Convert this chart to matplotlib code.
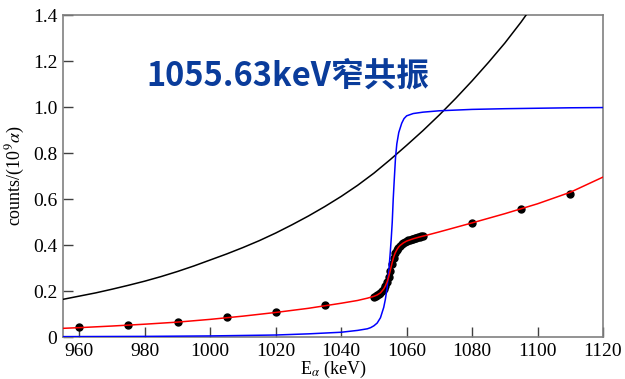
import matplotlib
matplotlib.use('Agg')
import matplotlib.pyplot as plt

# Energy grid (keV) and curves
E_black = [955, 960, 965, 970, 975, 980, 985, 990, 995, 1000, 1005, 1010, 1015, 1020,
           1025, 1030, 1035, 1040, 1045, 1050, 1055, 1060, 1065, 1070, 1075, 1080,
           1085, 1090, 1095, 1100]
V_black = [0.165, 0.179, 0.193, 0.209, 0.226, 0.244, 0.264, 0.286, 0.310, 0.336, 0.362,
           0.390, 0.420, 0.453, 0.489, 0.527, 0.568, 0.612, 0.660, 0.713, 0.772, 0.834,
           0.898, 0.966, 1.038, 1.114, 1.194, 1.278, 1.370, 1.470]

E_blue = [955, 980, 1000, 1020, 1030, 1040, 1045, 1048, 1049, 1050, 1051, 1052, 1053,
          1053.5, 1054, 1054.5, 1055, 1055.3, 1055.6, 1055.9, 1056.2, 1056.6, 1057,
          1057.6, 1058.5, 1059.2, 1060, 1062, 1065, 1070, 1080, 1090, 1100, 1110, 1120]
V_blue = [0.003, 0.004, 0.006, 0.010, 0.015, 0.022, 0.030, 0.037, 0.042, 0.050, 0.062,
          0.085, 0.130, 0.165, 0.210, 0.280, 0.370, 0.430, 0.500, 0.600, 0.680, 0.780,
          0.840, 0.890, 0.930, 0.950, 0.962, 0.972, 0.978, 0.984, 0.990, 0.993, 0.995,
          0.997, 0.998]

E_red = [955, 960, 970, 980, 990, 1000, 1010, 1020, 1030, 1040, 1045, 1048, 1050, 1051,
         1052, 1053, 1053.5, 1054, 1054.5, 1055, 1055.5, 1056, 1056.5, 1057, 1057.5,
         1058, 1059, 1060, 1062, 1064, 1066, 1070, 1080, 1090, 1100, 1110, 1120]
V_red = [0.039, 0.042, 0.049, 0.057, 0.066, 0.078, 0.092, 0.108, 0.126, 0.148, 0.160,
         0.170, 0.178, 0.184, 0.193, 0.210, 0.223, 0.240, 0.262, 0.290, 0.320, 0.347,
         0.366, 0.380, 0.391, 0.399, 0.410, 0.418, 0.428, 0.436, 0.443, 0.458, 0.497,
         0.537, 0.580, 0.630, 0.696]

# measured points
E_data = [960, 975, 990, 1005, 1020, 1035,
          1050.0, 1050.5, 1051.0, 1051.5, 1052.0, 1052.5, 1053.0, 1053.5, 1054.0,
          1054.5, 1055.0, 1055.5, 1056.0, 1056.5, 1057.0, 1057.5, 1058.0, 1058.5,
          1059.0, 1059.5, 1060.0, 1060.5, 1061.0, 1061.5, 1062.0, 1062.5, 1063.0,
          1063.5, 1064.0, 1064.5, 1065.0,
          1080, 1095, 1110]
V_data = [0.043, 0.053, 0.068, 0.088, 0.110, 0.139,
          0.177, 0.180, 0.184, 0.188, 0.194, 0.201, 0.211, 0.224, 0.241,
          0.263, 0.290, 0.318, 0.345, 0.365, 0.379, 0.390, 0.398, 0.404,
          0.409, 0.414, 0.418, 0.421, 0.424, 0.426, 0.428, 0.430, 0.432,
          0.434, 0.436, 0.438, 0.440,
          0.498, 0.558, 0.623]

x_ticks = [960, 980, 1000, 1020, 1040, 1060, 1080, 1100, 1120]
y_ticks = [0, 0.2, 0.4, 0.6, 0.8, 1.0, 1.2, 1.4]
y_labels = ['0', '0.2', '0.4', '0.6', '0.8', '1.0', '1.2', '1.4']
title = '1055.63keV窄共振'

plt.rcParams['font.family'] = ['Liberation Serif', 'DejaVu Serif']
plt.rcParams['mathtext.fontset'] = 'stix'

fig = plt.figure(figsize=(6.25, 3.79), dpi=100)
ax = fig.add_axes([0.1008, 0.110, 0.864, 0.8504])

ax.plot(E_data, V_data, 'o', color='black', markersize=5, zorder=2)
ax.plot(E_black, V_black, color='black', lw=1.1, zorder=3)
ax.plot(E_blue, V_blue, color='#0000ff', lw=1.1, zorder=3)
ax.plot(E_red, V_red, color='#ff0000', lw=1.1, zorder=4)

ax.set_xlim(955, 1120)
ax.set_ylim(0, 1.4)
ax.set_xticks(x_ticks)
ax.set_yticks(y_ticks)
ax.set_yticklabels(y_labels)
ax.tick_params(direction='in', length=7, width=1, color='#404040',
               labelsize=14, top=False, right=False, pad=4)

for s in ax.spines.values():
    s.set_color('#808080')
    s.set_linewidth(1.2)

ax.set_xlabel(r'E$_\alpha$ (keV)', fontsize=13, labelpad=-1)
ax.set_ylabel(r'counts/(10$^9\alpha$)', fontsize=13, labelpad=4)

fig.text(0.46, 0.80, title, fontsize=23.5, fontweight='bold', color='#0a3c9b',
         family=['Noto Sans CJK SC', 'DejaVu Sans'], ha='center', va='center')

fig.savefig('out.png', dpi=100)
